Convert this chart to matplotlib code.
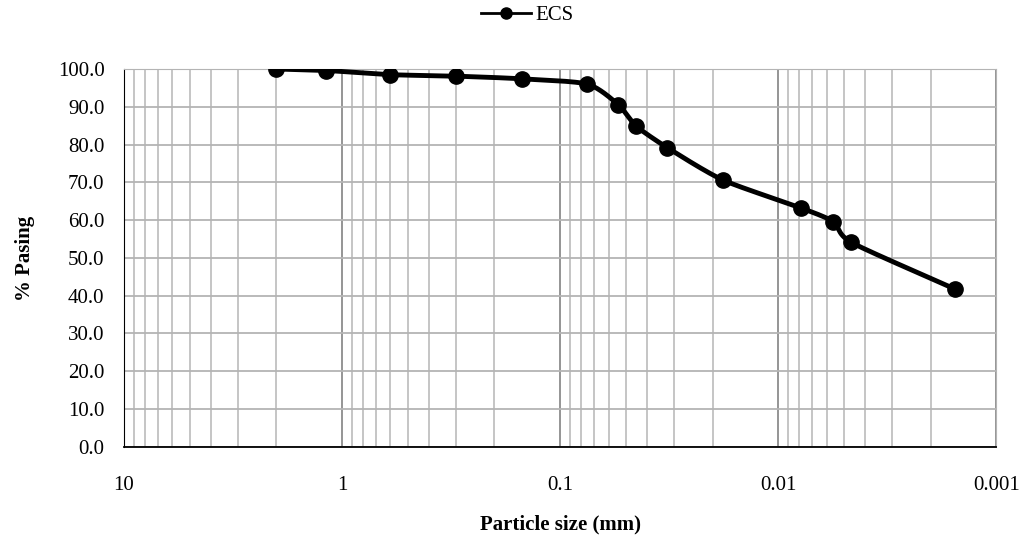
import matplotlib
matplotlib.use('Agg')
import matplotlib.pyplot as plt
import numpy as np
from matplotlib.ticker import LogLocator, FixedLocator, NullFormatter

plt.rcParams['font.family'] = ['Liberation Serif', 'DejaVu Serif']

# sieve / hydrometer results
size_mm = [2.0, 1.18, 0.6, 0.3, 0.15, 0.075, 0.054, 0.0448, 0.0323, 0.0179,
           0.00784, 0.0056, 0.00462, 0.00154]
pasing = [100.0, 99.6, 98.5, 98.1, 97.4, 96.0, 90.5, 84.9, 79.2, 70.6,
          63.2, 59.6, 54.1, 41.7]
label = 'ECS'


def smooth(x, y, n=30, tension=0.35):
    # cardinal spline through the points in log(x), similar to Excel's smoothed line
    lx = np.log10(x)
    y = np.asarray(y, float)
    px = np.concatenate([[2 * lx[0] - lx[1]], lx, [2 * lx[-1] - lx[-2]]])
    py = np.concatenate([[2 * y[0] - y[1]], y, [2 * y[-1] - y[-2]]])
    xs, ys = [], []
    t = np.linspace(0, 1, n)
    h00 = 2 * t ** 3 - 3 * t ** 2 + 1
    h10 = t ** 3 - 2 * t ** 2 + t
    h01 = -2 * t ** 3 + 3 * t ** 2
    h11 = t ** 3 - t ** 2
    for i in range(1, len(px) - 2):
        for arr, out in ((px, xs), (py, ys)):
            p0, p1, p2, p3 = arr[i - 1:i + 3]
            m1 = tension * (p2 - p0)
            m2 = tension * (p3 - p1)
            out.extend(h00 * p1 + h10 * m1 + h01 * p2 + h11 * m2)
    return 10 ** np.array(xs), np.array(ys)


fig, ax = plt.subplots(figsize=(10.24, 5.39), dpi=100)
fig.subplots_adjust(left=0.121, right=0.973, top=0.872, bottom=0.171)

sx, sy = smooth(size_mm, pasing)
ax.plot(sx, sy, color='black', lw=3.5, solid_capstyle='round', zorder=3)
ax.plot(size_mm, pasing, 'o', color='black', ms=11, zorder=4)
ax.plot([], [], '-o', color='black', lw=2, ms=8, label=label)

ax.set_xscale('log')
ax.set_xlim(10, 0.001)
ax.set_ylim(0, 100)
ax.set_yticks(np.arange(0, 101, 10))
ax.set_yticklabels(['%.1f' % v for v in np.arange(0, 101, 10)])
ax.xaxis.set_major_locator(FixedLocator([10, 1, 0.1, 0.01, 0.001]))
ax.set_xticklabels(['10', '1', '0.1', '0.01', '0.001'])
ax.xaxis.set_minor_locator(LogLocator(base=10, subs=np.arange(2, 10)))
ax.xaxis.set_minor_formatter(NullFormatter())

ax.grid(True, which='major', axis='x', color='#8c8c8c', lw=1.3)
ax.grid(True, which='minor', axis='x', color='#c0c0c0', lw=1.3)
ax.grid(True, which='major', axis='y', color='#b4b4b4', lw=1.3)
ax.set_axisbelow(True)

ax.tick_params(axis='both', which='both', length=0, labelsize=15)
ax.tick_params(axis='y', pad=14)
ax.tick_params(axis='x', pad=21)
for s in ('top', 'right'):
    ax.spines[s].set_color('#b4b4b4')
ax.spines['left'].set_color('black')
ax.spines['bottom'].set_color('black')
ax.spines['bottom'].set_linewidth(1.3)

ax.set_xlabel('Particle size (mm)', fontsize=15, fontweight='bold', labelpad=14)
ax.set_ylabel('% Pasing', fontsize=15, fontweight='bold', labelpad=16)

fig.legend(loc='center', bbox_to_anchor=(0.515, 0.972), frameon=False,
           fontsize=15, handlelength=2.4, handletextpad=0.2, borderaxespad=0)

fig.savefig('out.png', dpi=100)
